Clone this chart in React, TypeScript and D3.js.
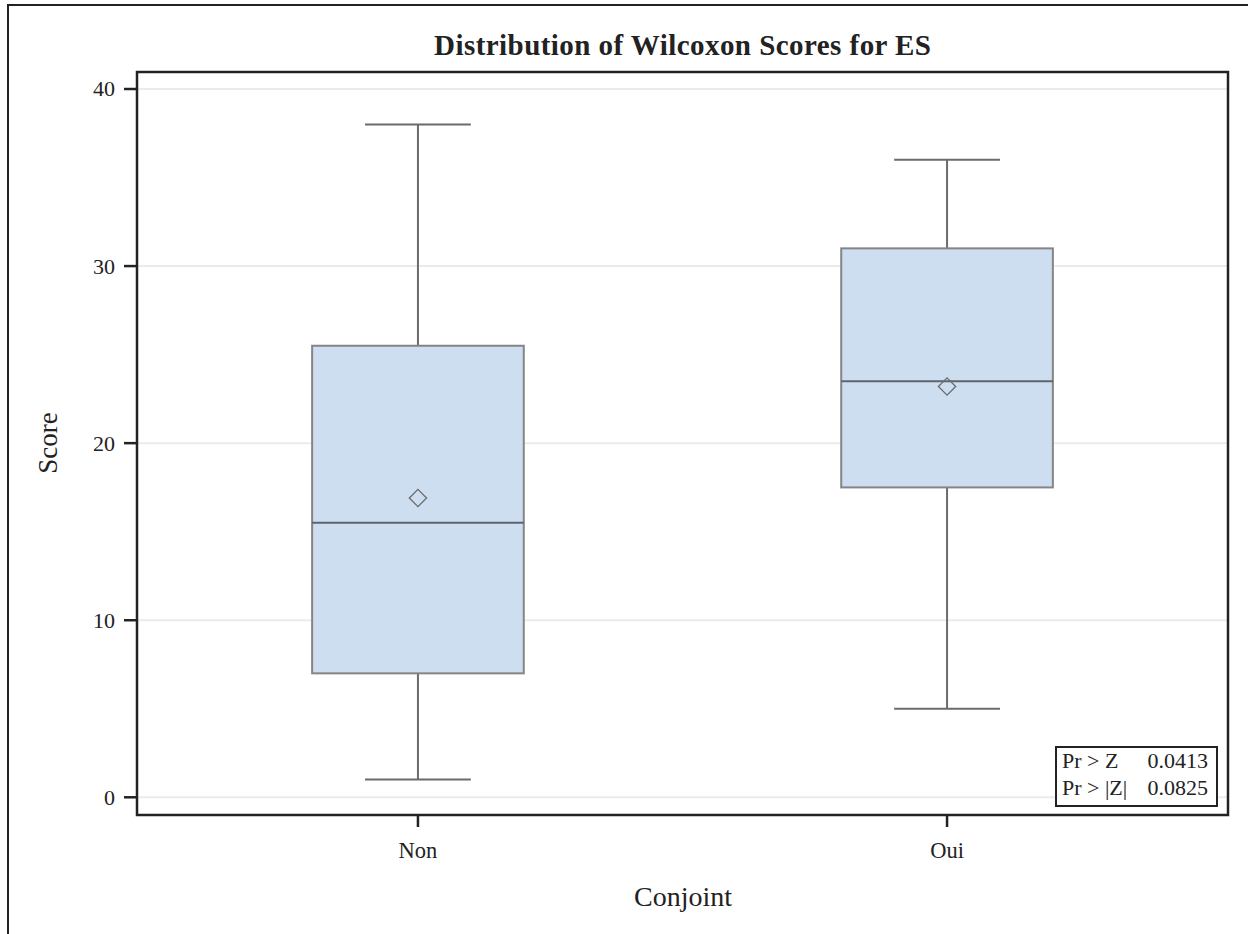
import React from "react";
import * as d3 from "d3";

const categories = ["Non", "Oui"];
const q1 = [7, 17.5];
const medians = [15.5, 23.5];
const q3 = [25.5, 31];
const whiskerLow = [1, 5];
const whiskerHigh = [38, 36];
const means = [16.9, 23.2];
const yTicks = [0, 10, 20, 30, 40];
const statLabels = ["Pr > Z", "Pr > |Z|"];
const statValues = ["0.0413", "0.0825"];

const W = 1248;
const H = 934;
const plot = { left: 137, top: 72, right: 1228, bottom: 815 };
const FONT = "'Liberation Serif', 'Times New Roman', serif";

export default function App() {
  const y = d3.scaleLinear().domain([-1, 40.96]).range([plot.bottom, plot.top]);
  const x = d3
    .scalePoint<string>()
    .domain(categories)
    .range([plot.left, plot.right])
    .padding(0.531);
  const step = x.step();
  const boxW = step * 0.4;
  const capW = boxW / 2;
  const diamond = d3.symbol(d3.symbolDiamond2 ?? d3.symbolDiamond, 190)();

  return (
    <svg
      width={W}
      height={H}
      style={{ position: "absolute", left: 0, top: 0, background: "#fff" }}
      fontFamily={FONT}
    >
      {/* outer frame (cropped right/bottom) */}
      <rect x={8} y={5} width={W + 20} height={H + 20} fill="none" stroke="#222" strokeWidth={2} />

      <text
        x={682.5}
        y={55}
        textAnchor="middle"
        fontSize={29}
        fontWeight="bold"
        fill="#222"
        textLength={497}
        lengthAdjust="spacing"
      >
        Distribution of Wilcoxon Scores for ES
      </text>

      {/* gridlines */}
      {yTicks.map((t) => (
        <line
          key={"g" + t}
          x1={plot.left}
          x2={plot.right}
          y1={y(t)}
          y2={y(t)}
          stroke="#ebebeb"
          strokeWidth={2}
        />
      ))}

      {categories.map((c, i) => {
        const cx = x(c)!;
        return (
          <g key={c}>
            <line x1={cx} x2={cx} y1={y(whiskerHigh[i])} y2={y(q3[i])} stroke="#6b6b6b" strokeWidth={2} />
            <line x1={cx} x2={cx} y1={y(q1[i])} y2={y(whiskerLow[i])} stroke="#6b6b6b" strokeWidth={2} />
            <line
              x1={cx - capW / 2}
              x2={cx + capW / 2}
              y1={y(whiskerHigh[i])}
              y2={y(whiskerHigh[i])}
              stroke="#6b6b6b"
              strokeWidth={2}
            />
            <line
              x1={cx - capW / 2}
              x2={cx + capW / 2}
              y1={y(whiskerLow[i])}
              y2={y(whiskerLow[i])}
              stroke="#6b6b6b"
              strokeWidth={2}
            />
            <rect
              x={cx - boxW / 2}
              y={y(q3[i])}
              width={boxW}
              height={y(q1[i]) - y(q3[i])}
              fill="#cddef0"
              stroke="#858585"
              strokeWidth={2}
            />
            <line
              x1={cx - boxW / 2}
              x2={cx + boxW / 2}
              y1={y(medians[i])}
              y2={y(medians[i])}
              stroke="#5f646c"
              strokeWidth={2}
            />
            <path
              d={diamond!}
              transform={`translate(${cx},${y(means[i])})`}
              fill="none"
              stroke="#6b6b6b"
              strokeWidth={1.3}
            />
          </g>
        );
      })}

      {/* plot frame */}
      <rect
        x={plot.left}
        y={plot.top}
        width={plot.right - plot.left}
        height={plot.bottom - plot.top}
        fill="none"
        stroke="#222"
        strokeWidth={2.5}
      />

      {/* y axis ticks */}
      {yTicks.map((t) => (
        <g key={"t" + t}>
          <line x1={plot.left - 13} x2={plot.left} y1={y(t)} y2={y(t)} stroke="#222" strokeWidth={2.5} />
          <text x={plot.left - 22} y={y(t) + 7.5} textAnchor="end" fontSize={22} fill="#222">
            {t}
          </text>
        </g>
      ))}

      {/* x axis ticks */}
      {categories.map((c) => (
        <g key={"x" + c}>
          <line x1={x(c)!} x2={x(c)!} y1={plot.bottom} y2={plot.bottom + 12} stroke="#222" strokeWidth={2.5} />
          <text x={x(c)!} y={plot.bottom + 43} textAnchor="middle" fontSize={22.5} fill="#222">
            {c}
          </text>
        </g>
      ))}

      <text x={683} y={906} textAnchor="middle" fontSize={28} fill="#222">
        Conjoint
      </text>
      <text
        transform={`translate(57,443) rotate(-90)`}
        textAnchor="middle"
        fontSize={27}
        fill="#222"
      >
        Score
      </text>

      {/* stats inset */}
      <rect x={1056} y={747} width={161} height={59} fill="#fff" stroke="#222" strokeWidth={2} />
      {statLabels.map((l, i) => (
        <g key={l}>
          <text x={1062} y={768 + i * 27} fontSize={22} fill="#222">
            {l}
          </text>
          <text x={1208} y={768 + i * 27} textAnchor="end" fontSize={22} fill="#222">
            {statValues[i]}
          </text>
        </g>
      ))}
    </svg>
  );
}
